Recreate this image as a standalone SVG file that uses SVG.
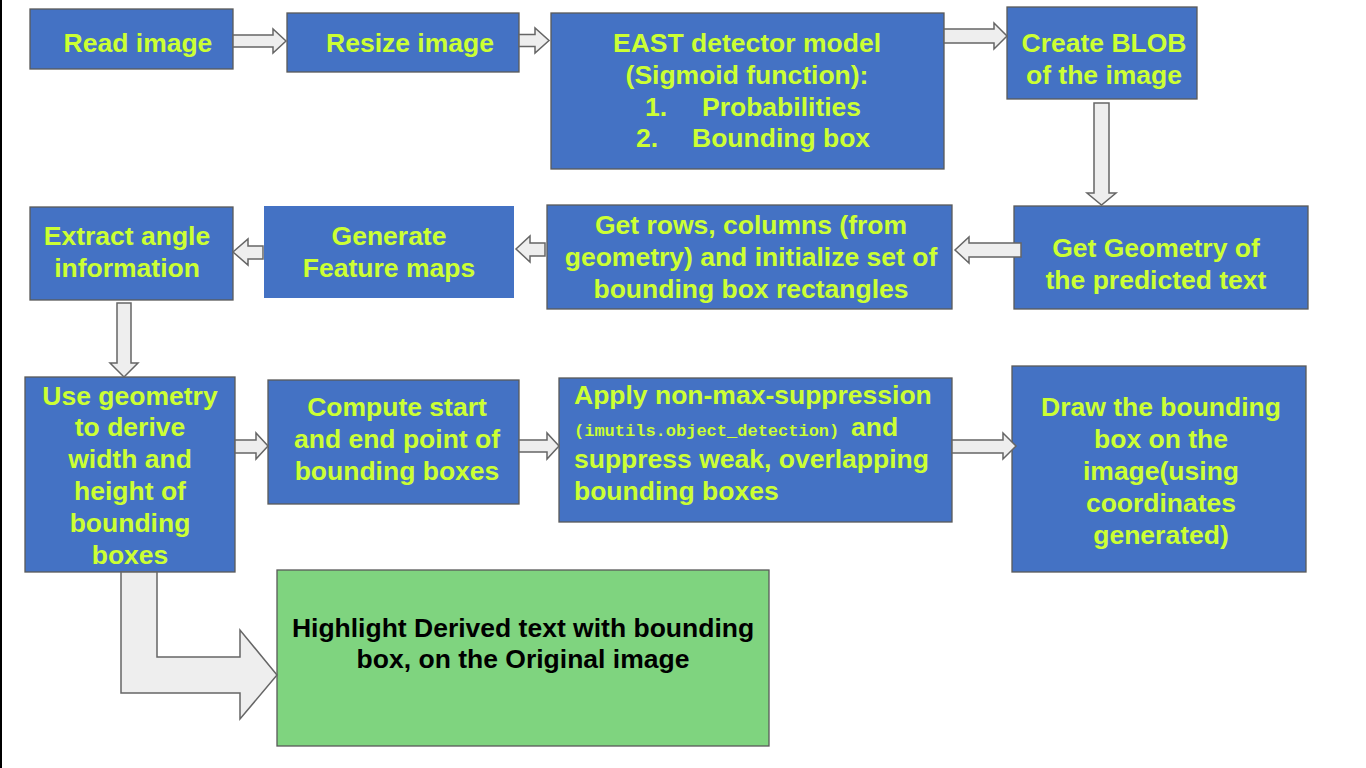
<svg xmlns="http://www.w3.org/2000/svg" width="1366" height="768" viewBox="0 0 1366 768">
<style>
.box{fill:#4472C4;stroke:#595959;stroke-width:1.3}
.green{fill:#7FD47F;stroke:#595959;stroke-width:1.3}
.t{font-family:"Liberation Sans",Arial,sans-serif;font-weight:bold;font-size:26.5px;fill:#CCFF33}
.c{text-anchor:middle}
.k{fill:#000}
.mono{font-family:"Liberation Mono","Courier New",monospace;font-weight:bold;font-size:17px}
.arr{fill:#EEEEEE;stroke:#666666;stroke-width:1.5;stroke-linejoin:miter}
</style>
<rect x="0" y="0" width="1366" height="768" fill="#fff"/>
<rect x="0" y="0" width="2" height="768" fill="#000"/>

<g id="read">
<rect class="box" x="30" y="9" width="203" height="60"/>
<text class="t c" x="138" y="52">Read image</text>
</g>
<g id="resize">
<rect class="box" x="287" y="13" width="232" height="59"/>
<text class="t c" x="410" y="52">Resize image</text>
</g>
<g id="east">
<rect class="box" x="551" y="13" width="393" height="156"/>
<text class="t c" x="747" y="52">EAST detector model</text>
<text class="t c" x="747" y="84">(Sigmoid function):</text>
<text class="t" x="645" y="116">1.</text>
<text class="t" x="702" y="116">Probabilities</text>
<text class="t" x="636" y="147">2.</text>
<text class="t" x="692" y="147">Bounding box</text>
</g>
<g id="blob">
<rect class="box" x="1007" y="7" width="190" height="92"/>
<text class="t c" x="1104" y="52">Create BLOB</text>
<text class="t c" x="1104" y="84">of the image</text>
</g>
<g id="geometry">
<rect class="box" x="1014" y="206" width="294" height="103"/>
<text class="t c" x="1156" y="257">Get Geometry of</text>
<text class="t c" x="1156" y="289">the predicted text</text>
</g>
<g id="rows">
<rect class="box" x="547" y="205" width="405" height="104"/>
<text class="t c" x="751" y="234">Get rows, columns (from</text>
<text class="t c" x="751" y="266">geometry) and initialize set of</text>
<text class="t c" x="751" y="298">bounding box rectangles</text>
</g>
<g id="generate">
<rect x="264" y="206" width="250" height="92" fill="#4472C4"/>
<text class="t c" x="389" y="245">Generate</text>
<text class="t c" x="389" y="277">Feature maps</text>
</g>
<g id="extract">
<rect class="box" x="30" y="207" width="203" height="93"/>
<text class="t c" x="127" y="245">Extract angle</text>
<text class="t c" x="127" y="277">information</text>
</g>
<g id="usegeom">
<rect class="box" x="25" y="377" width="210" height="195"/>
<text class="t c" x="130" y="405">Use geometry</text>
<text class="t c" x="130" y="436">to derive</text>
<text class="t c" x="130" y="468">width and</text>
<text class="t c" x="130" y="500">height of</text>
<text class="t c" x="130" y="532">bounding</text>
<text class="t c" x="130" y="564">boxes</text>
</g>
<g id="compute">
<rect class="box" x="268" y="380" width="251" height="124"/>
<text class="t c" x="397" y="416">Compute start</text>
<text class="t c" x="397" y="448">and end point of</text>
<text class="t c" x="397" y="480">bounding boxes</text>
</g>
<g id="nms">
<rect class="box" x="559" y="378" width="393" height="144"/>
<text class="t" x="574" y="404">Apply non-max-suppression</text>
<text class="t" x="574" y="436"><tspan class="mono">(imutils.object_detection)</tspan><tspan x="851">and</tspan></text>
<text class="t" x="574" y="468">suppress weak, overlapping</text>
<text class="t" x="574" y="500">bounding boxes</text>
</g>
<g id="draw">
<rect class="box" x="1012" y="366" width="294" height="206"/>
<text class="t c" x="1161" y="416">Draw the bounding</text>
<text class="t c" x="1161" y="448">box on the</text>
<text class="t c" x="1161" y="480">image(using</text>
<text class="t c" x="1161" y="512">coordinates</text>
<text class="t c" x="1161" y="544">generated)</text>
</g>
<g id="highlight">
<rect class="green" x="277" y="570" width="492" height="176"/>
<text class="t c k" x="523" y="637">Highlight Derived text with bounding</text>
<text class="t c k" x="523" y="668">box, on the Original image</text>
</g>

<g id="connectors">
<path class="arr" d="M233,35 L273,35 L273,29 L286,41 L273,53 L273,47 L233,47 Z"/>
<path class="arr" d="M519,34.5 L535,34.5 L535,28 L549,40.5 L535,53 L535,46.5 L519,46.5 Z"/>
<path class="arr" d="M944,29 L994,29 L994,23 L1007,36 L994,49 L994,43 L944,43 Z"/>
<path class="arr" d="M1094,103 L1109,103 L1109,193 L1116,193 L1101.5,205 L1087,193 L1094,193 Z"/>
<path class="arr" d="M1021,243 L969,243 L969,237 L955,250 L969,263 L969,257 L1021,257 Z"/>
<path class="arr" d="M545,243 L530,243 L530,236 L516,249 L530,262 L530,256 L545,256 Z"/>
<path class="arr" d="M263,246 L248,246 L248,239 L233,252 L248,265 L248,259 L263,259 Z"/>
<path class="arr" d="M117,303 L131,303 L131,363 L138,363 L124,377 L110,363 L117,363 Z"/>
<path class="arr" d="M235,440 L256,440 L256,433 L268,446 L256,459 L256,453 L235,453 Z"/>
<path class="arr" d="M519,440 L547,440 L547,433 L559,446 L547,459 L547,452 L519,452 Z"/>
<path class="arr" d="M952,440 L1003,440 L1003,433 L1016,446 L1003,459 L1003,453 L952,453 Z"/>
<path class="arr" d="M121,572 L157,572 L157,657 L240,657 L240,630 L277,675 L240,719 L240,693 L121,693 Z"/>
</g>
</svg>
